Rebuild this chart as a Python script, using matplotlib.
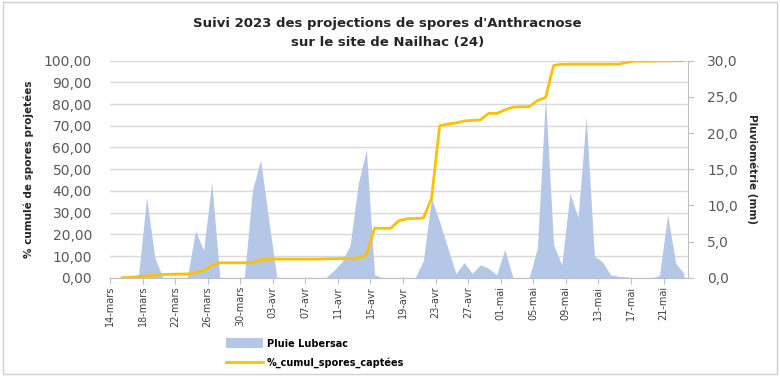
import matplotlib
matplotlib.use("Agg")
import matplotlib.pyplot as plt
import matplotlib.dates as mdates
from matplotlib.patches import Patch, Rectangle
from matplotlib.lines import Line2D
import numpy as np
import pandas as pd

# Daily series, 15 March -> 23 May 2023
dates = pd.date_range("2023-03-15", "2023-05-23", freq="D")

pluie_mm = [
    0.0, 0.0, 0.3, 11.1, 2.8, 0.0, 0.0, 0.0, 0.0, 6.5,
    3.8, 13.2, 0.0, 0.0, 0.0, 0.0, 12.1, 16.3, 8.0, 0.0,
    0.0, 0.0, 0.0, 0.0, 0.0, 0.0, 1.0, 2.2, 4.5, 13.0,
    17.7, 0.4, 0.0, 0.0, 0.0, 0.0, 0.0, 2.4, 11.0, 7.7,
    4.1, 0.6, 2.1, 0.6, 1.8, 1.3, 0.4, 3.9, 0.0, 0.0,
    0.0, 4.1, 25.0, 4.5, 1.8, 11.7, 8.3, 22.3, 3.0, 2.2,
    0.4, 0.2, 0.1, 0.0, 0.0, 0.0, 0.3, 8.7, 2.0, 0.6,
]

cumul_pct = [
    0.0, 0.2, 0.5, 0.8, 1.2, 1.5, 1.6, 1.7, 1.7, 2.4,
    3.3, 5.6, 6.9, 6.9, 6.9, 6.9, 6.9, 8.3, 8.5, 8.6,
    8.6, 8.6, 8.6, 8.6, 8.6, 8.7, 8.8, 8.8, 8.9, 9.0,
    10.5, 22.8, 22.8, 22.8, 26.3, 27.2, 27.3, 27.5, 36.5, 70.0,
    70.8, 71.3, 72.2, 72.5, 72.7, 75.7, 75.7, 77.3, 78.6, 78.8,
    78.8, 81.6, 83.0, 97.8, 98.4, 98.4, 98.4, 98.4, 98.4, 98.4,
    98.4, 98.4, 99.2, 99.8, 99.8, 99.8, 99.9, 99.9, 100.0, 100.0,
]

tick_dates = pd.date_range("2023-03-14", periods=18, freq="4D")
tick_labels = [
    "14-mars", "18-mars", "22-mars", "26-mars", "30-mars", "03-avr",
    "07-avr", "11-avr", "15-avr", "19-avr", "23-avr", "27-avr",
    "01-mai", "05-mai", "09-mai", "13-mai", "17-mai", "21-mai",
]

BLUE = "#B4C7E7"
GOLD = "#FFC000"
GRID = "#D9D9D9"
TXT = "#595959"

fig = plt.figure(figsize=(7.8, 3.76), dpi=100)
fig.patch.set_facecolor("white")
fig.add_artist(Rectangle((0.004, 0.006), 0.992, 0.988, transform=fig.transFigure,
                         fill=False, edgecolor="#D0D0D0", linewidth=1.0))

ax = fig.add_axes([0.141, 0.2614, 0.741, 0.5772])
ax2 = ax.twinx()
ax3 = ax.twinx()

# points sit in the middle of each day slot
x = mdates.date2num(dates) + 0.5
x0 = mdates.date2num(pd.Timestamp("2023-03-14"))
x1 = mdates.date2num(pd.Timestamp("2023-05-24"))

# left axis: gridlines and % scale
ax.set_xlim(x0, x1)
ax.set_ylim(0, 100)
ax.set_yticks(np.arange(0, 101, 10))
ax.set_yticklabels([f"{v:.2f}".replace(".", ",") for v in np.arange(0, 101, 10)])
ax.grid(axis="y", color=GRID, linewidth=1.0)
ax.set_axisbelow(True)
for s in ["left", "top", "right"]:
    ax.spines[s].set_visible(False)
ax.spines["bottom"].set_color("#BFBFBF")
ax.tick_params(axis="y", length=0, labelsize=10, labelcolor=TXT, pad=13)
ax.set_xticks(mdates.date2num(tick_dates))
ax.set_xticklabels(tick_labels, rotation=90, fontsize=7, color="#404040")
ax.tick_params(axis="x", length=4, color="#BFBFBF", pad=2)
ax.set_ylabel("% cumulé de spores projetées", fontsize=7.5, fontweight="bold",
              color="#262626", labelpad=7)

# right axis: rainfall area
ax2.fill_between(x, pluie_mm, 0, color=BLUE, linewidth=0)
ax2.set_xlim(x0, x1)
ax2.set_ylim(0, 30)
ax2.set_yticks(np.arange(0, 31, 5))
ax2.set_yticklabels([f"{v:.1f}".replace(".", ",") for v in np.arange(0, 31, 5)])
for s in ["left", "top", "bottom"]:
    ax2.spines[s].set_visible(False)
ax2.spines["right"].set_color("#BFBFBF")
ax2.tick_params(axis="y", length=4, color="#BFBFBF", labelsize=10, labelcolor=TXT, pad=10)
ax2.set_ylabel("Pluviométrie (mm)", fontsize=7.5, fontweight="bold", color="#262626",
               rotation=270, labelpad=14)

# cumulative spore line on top
ax3.plot(x, cumul_pct, color=GOLD, linewidth=2.0, solid_joinstyle="round")
ax3.set_xlim(x0, x1)
ax3.set_ylim(0, 100)
ax3.axis("off")

fig.text(0.497, 0.912, "Suivi 2023 des projections de spores d'Anthracnose\nsur le site de Nailhac (24)",
         ha="center", va="center", fontsize=9.5, fontweight="bold", color="#262626",
         linespacing=1.6)

handles = [Patch(facecolor=BLUE, edgecolor="none"), Line2D([0], [0], color=GOLD, linewidth=2)]
fig.legend(handles, ["Pluie Lubersac", "%_cumul_spores_captées"], loc="upper left",
           bbox_to_anchor=(0.290, 0.100), frameon=False,
           prop={"weight": "bold", "size": 7}, handlelength=3.8, handleheight=1.2,
           labelspacing=0.9, handletextpad=0.4, borderaxespad=0, borderpad=0)

fig.savefig("out.png", dpi=100)
